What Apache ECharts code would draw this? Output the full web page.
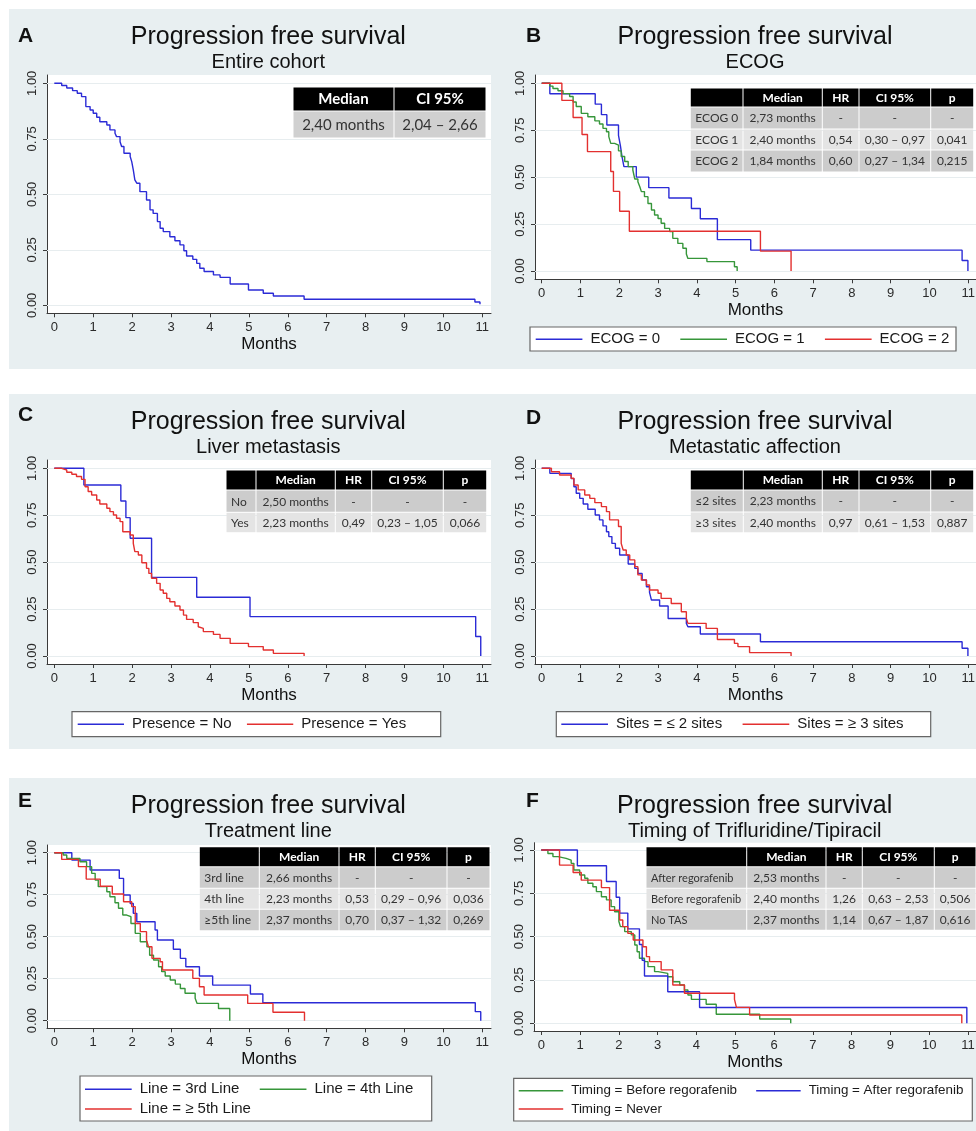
<!DOCTYPE html>
<html><head><meta charset="utf-8">
<script src="https://cdn.jsdelivr.net/npm/echarts@6/dist/echarts.min.js"></script>
<style>html,body{margin:0;padding:0;background:#fff}#c{width:976px;height:1131px}</style>
</head><body><div id="c"></div>
<script>
// ---------------- DATA ----------------
const monthTicks = [0,1,2,3,4,5,6,7,8,9,10,11];
const survTicks = [0, 0.25, 0.5, 0.75, 1];

// A: entire cohort
const allT = [0,0.19,0.32,0.47,0.59,0.70,0.81,0.92,1.00,1.09,1.17,1.35,1.43,1.56,1.60,1.69,1.73,1.79,1.95,1.99,2.03,2.07,2.12,2.20,2.37,2.46,2.54,2.65,2.72,2.80,2.97,3.10,3.23,3.33,3.40,3.56,3.66,3.74,3.85,4.09,4.26,4.52,4.99,5.37,5.63,6.42,10.81,10.94];
const allS = [1.000,0.990,0.979,0.967,0.955,0.940,0.895,0.880,0.865,0.847,0.827,0.812,0.790,0.775,0.760,0.737,0.715,0.685,0.670,0.647,0.610,0.565,0.550,0.512,0.474,0.430,0.414,0.377,0.347,0.332,0.309,0.291,0.272,0.246,0.222,0.207,0.189,0.167,0.152,0.137,0.126,0.096,0.069,0.054,0.042,0.027,0.015,0.005];

// B: ECOG
const ecog0T = [0,0.21,1.38,1.54,1.68,1.98,2.03,2.07,2.12,2.44,2.76,3.28,3.86,4.09,4.53,5.39,10.84,10.99];
const ecog0S = [1,0.944,0.889,0.833,0.778,0.722,0.667,0.611,0.556,0.500,0.444,0.389,0.333,0.278,0.167,0.111,0.056,0];
const ecog1T = [0,0.21,0.29,0.42,0.55,0.72,0.81,0.89,1.02,1.19,1.37,1.49,1.58,1.67,1.73,1.78,1.88,1.98,2.05,2.14,2.23,2.35,2.40,2.48,2.53,2.57,2.65,2.74,2.83,2.91,3.00,3.08,3.17,3.30,3.38,3.51,3.64,3.73,3.77,4.26,4.97,5.04];
const ecog1S = [1,0.985,0.972,0.960,0.945,0.930,0.900,0.876,0.840,0.822,0.800,0.783,0.760,0.742,0.716,0.680,0.671,0.640,0.610,0.583,0.556,0.538,0.490,0.476,0.449,0.423,0.396,0.360,0.325,0.298,0.280,0.254,0.227,0.210,0.174,0.147,0.121,0.091,0.067,0.050,0.023,0];
const ecog2T = [0,0.52,0.81,1.04,1.18,1.78,1.85,2.01,2.26,5.64,6.43];
const ecog2S = [1,0.909,0.818,0.727,0.636,0.530,0.424,0.318,0.212,0.106,0];

// C: liver metastasis
const liverNoT = [0,0.76,1.71,1.84,1.95,2.50,3.66,5.03,10.83,10.96];
const liverNoS = [1,0.911,0.826,0.737,0.627,0.419,0.313,0.210,0.104,0];
const liverYesT = [0,0.19,0.32,0.45,0.57,0.70,0.79,0.87,0.96,1.09,1.17,1.35,1.43,1.52,1.60,1.69,1.76,1.95,2.03,2.07,2.16,2.25,2.37,2.43,2.50,2.63,2.72,2.80,2.89,2.97,3.10,3.23,3.32,3.40,3.57,3.70,3.74,3.83,4.09,4.26,4.52,4.99,5.37,5.63,6.42];
const liverYesS = [1,0.991,0.979,0.968,0.956,0.941,0.902,0.876,0.858,0.831,0.810,0.787,0.769,0.751,0.734,0.716,0.662,0.645,0.600,0.556,0.538,0.497,0.467,0.440,0.414,0.387,0.352,0.334,0.307,0.289,0.266,0.245,0.218,0.195,0.178,0.156,0.147,0.130,0.115,0.094,0.067,0.050,0.032,0.014,0];

// D: metastatic sites
const sitesLe2T = [0,0.21,0.76,0.83,0.89,0.98,1.07,1.19,1.38,1.49,1.58,1.67,1.73,1.81,1.90,2.01,2.23,2.40,2.48,2.59,2.70,2.78,2.83,3.04,3.26,3.73,3.77,4.09,5.64,10.84,10.99];
const sitesLe2S = [1,0.973,0.945,0.902,0.867,0.840,0.810,0.782,0.751,0.725,0.693,0.662,0.636,0.600,0.574,0.538,0.490,0.467,0.440,0.405,0.369,0.339,0.298,0.266,0.200,0.174,0.156,0.117,0.076,0.041,0];
const sitesGe3T = [0,0.25,0.46,0.76,0.83,0.94,1.11,1.24,1.37,1.54,1.67,1.75,1.98,2.05,2.10,2.18,2.27,2.40,2.48,2.57,2.70,2.78,3.00,3.08,3.34,3.60,3.73,3.77,4.24,4.53,4.97,5.06,5.36,6.43];
const sitesGe3S = [1,0.982,0.964,0.947,0.911,0.885,0.858,0.840,0.817,0.796,0.769,0.725,0.690,0.600,0.565,0.538,0.512,0.476,0.432,0.405,0.378,0.352,0.334,0.307,0.280,0.236,0.200,0.174,0.147,0.088,0.067,0.050,0.018,0];

// E: treatment line
const line3T = [0,0.45,0.92,1.67,1.78,1.95,2.03,2.12,2.59,2.65,3.06,3.24,3.38,3.73,4.07,5.04,5.36,10.82,10.96];
const line3S = [1,0.956,0.897,0.847,0.748,0.698,0.639,0.589,0.540,0.480,0.425,0.371,0.321,0.266,0.212,0.159,0.107,0.054,0];
const line4T = [0,0.23,0.32,0.66,0.83,0.96,1.05,1.13,1.35,1.43,1.56,1.65,1.76,1.86,1.97,2.08,2.21,2.38,2.45,2.55,2.68,2.76,2.85,2.98,3.11,3.24,3.36,3.62,3.67,4.22,4.51];
const line4S = [1,0.986,0.966,0.946,0.917,0.877,0.837,0.798,0.768,0.738,0.702,0.669,0.629,0.619,0.579,0.520,0.470,0.440,0.390,0.361,0.321,0.292,0.266,0.242,0.218,0.192,0.163,0.133,0.103,0.073,0];
const line5T = [0,0.19,0.62,0.82,1.18,1.49,1.78,1.99,2.08,2.21,2.37,2.42,2.51,2.72,2.78,3.56,3.73,3.85,4.97,5.62,6.43];
const line5S = [1,0.960,0.917,0.843,0.800,0.754,0.708,0.679,0.579,0.530,0.480,0.440,0.371,0.351,0.302,0.252,0.202,0.153,0.103,0.050,0];

// F: timing of trifluridine/tipiracil
const afterT = [0,0.93,1.68,1.93,2.02,2.23,2.53,2.60,2.66,3.26,4.08,10.97];
const afterS = [1,0.909,0.818,0.727,0.636,0.545,0.455,0.364,0.273,0.182,0.091,0];
const beforeT = [0,0.17,0.30,0.43,0.64,0.77,0.84,0.99,1.12,1.20,1.33,1.42,1.55,1.68,1.80,1.89,2.00,2.04,2.15,2.32,2.41,2.47,2.53,2.66,2.75,2.92,3.01,3.26,3.39,3.57,3.69,3.78,3.87,4.25,4.51,5.63,6.43];
const beforeS = [1,0.980,0.962,0.952,0.942,0.923,0.885,0.856,0.837,0.808,0.788,0.760,0.730,0.712,0.673,0.644,0.587,0.558,0.529,0.510,0.452,0.413,0.375,0.356,0.327,0.298,0.288,0.269,0.240,0.221,0.192,0.163,0.138,0.110,0.052,0.025,0];
const neverT = [0,0.47,0.82,1.03,1.55,1.76,2.02,2.10,2.23,2.37,2.62,2.71,2.79,3.09,3.39,3.69,4.98,5.03,5.37,10.84];
const neverS = [1,0.913,0.870,0.826,0.783,0.652,0.596,0.558,0.519,0.481,0.442,0.385,0.356,0.308,0.221,0.173,0.138,0.092,0.048,0];

// texts
const mainTitle = 'Progression free survival';
const subTitles = ['Entire cohort','ECOG','Liver metastasis','Metastatic affection','Treatment line','Timing of Trifluridine/Tipiracil'];
const panelLetters = ['A','B','C','D','E','F'];
const axisName = 'Months';

const legendB = ['ECOG = 0','ECOG = 1','ECOG = 2'];
const legendC = ['Presence = No','Presence = Yes'];
const legendD = ['Sites = ≤ 2 sites','Sites = ≥ 3 sites'];
const legendE = ['Line = 3rd Line','Line = 4th Line','Line = ≥ 5th Line'];
const legendF = ['Timing = Before regorafenib','Timing = After regorafenib','Timing = Never'];

const headA = ['Median','CI 95%'];
const rowsA = [['2,40 months','2,04 – 2,66']];
const headMain = ['','Median','HR','CI 95%','p'];
const rowsB = [['ECOG 0','2,73 months','-','-','-'],['ECOG 1','2,40 months','0,54','0,30 – 0,97','0,041'],['ECOG 2','1,84 months','0,60','0,27 – 1,34','0,215']];
const rowsC = [['No','2,50 months','-','-','-'],['Yes','2,23 months','0,49','0,23 – 1,05','0,066']];
const rowsD = [['≤2 sites','2,23 months','-','-','-'],['≥3 sites','2,40 months','0,97','0,61 – 1,53','0,887']];
const rowsE = [['3rd line','2,66 months','-','-','-'],['4th line','2,23 months','0,53','0,29 – 0,96','0,036'],['≥5th line','2,37 months','0,70','0,37 – 1,32','0,269']];
const rowsF = [['After regorafenib','2,53 months','-','-','-'],['Before regorafenib','2,40 months','1,26','0,63 – 2,53','0,506'],['No TAS','2,37 months','1,14','0,67 – 1,87','0,616']];

// ---------------- STYLE / LAYOUT ----------------
const BLUE = '#2b2bd6', GREEN = '#36963a', RED = '#e3302f';
const BG = '#e8eff1';
const SANS = '"Liberation Sans", Arial, sans-serif';
const TFONT = 'Lato, "Open Sans", sans-serif';

const curves = [
  {p:0, name:'Entire cohort', t:allT, s:allS, c:BLUE},
  {p:1, name:legendB[0], t:ecog0T, s:ecog0S, c:BLUE},
  {p:1, name:legendB[1], t:ecog1T, s:ecog1S, c:GREEN},
  {p:1, name:legendB[2], t:ecog2T, s:ecog2S, c:RED},
  {p:2, name:legendC[0], t:liverNoT, s:liverNoS, c:BLUE},
  {p:2, name:legendC[1], t:liverYesT, s:liverYesS, c:RED},
  {p:3, name:legendD[0], t:sitesLe2T, s:sitesLe2S, c:BLUE},
  {p:3, name:legendD[1], t:sitesGe3T, s:sitesGe3S, c:RED},
  {p:4, name:legendE[0], t:line3T, s:line3S, c:BLUE},
  {p:4, name:legendE[1], t:line4T, s:line4S, c:GREEN},
  {p:4, name:legendE[2], t:line5T, s:line5S, c:RED},
  {p:5, name:legendF[0], t:beforeT, s:beforeS, c:GREEN},
  {p:5, name:legendF[1], t:afterT, s:afterS, c:BLUE},
  {p:5, name:legendF[2], t:neverT, s:neverS, c:RED}
];

const PL = [
  {x0:54.3, x11:482.3, y1:83.3, y0:305.3, reg:[47,75,491,313.3], tY:37, sY:62, lx:18, ly:36},
  {x0:541.7, x11:968.3, y1:83.3, y0:271, reg:[535,75,976,279.3], tY:37, sY:62, lx:526, ly:36},
  {x0:54.3, x11:482.3, y1:468.3, y0:656, reg:[47,460,491,664], tY:421.7, sY:447.7, lx:18, ly:415},
  {x0:541.7, x11:968.3, y1:468.3, y0:656, reg:[535,460,976,664], tY:421.7, sY:447.7, lx:526, ly:418},
  {x0:54.3, x11:482.3, y1:852.7, y0:1020.7, reg:[47,845,491,1028.3], tY:805.7, sY:831.7, lx:18, ly:801},
  {x0:541.3, x11:968, y1:850, y0:1023.3, reg:[534,842.7,976,1031], tY:805.7, sY:831, lx:526, ly:801.7}
];
const ROWBANDS = [[9,369],[394,749],[778,1131]];

const DK = '#cccccc', LT = '#e4e4e4';
const TABLES = [
  {head:headA, rows:rowsA, cols:[293,394,486], ys:[87,111,138], fills:['#d0d0d0'], fs:15, ffs:15, left:false},
  {head:headMain, rows:rowsB, cols:[690.3,743,822.3,859,930.7,973.7], ys:[88,107,129,150,172], fills:[DK,LT,DK], fs:12, ffs:12, left:true},
  {head:headMain, rows:rowsC, cols:[226,256,335.3,371.7,443.3,486.7], ys:[470,490,512.3,532.7], fills:[DK,LT], fs:12, ffs:12, left:true},
  {head:headMain, rows:rowsD, cols:[690.3,743.3,822.3,859,930.7,973.7], ys:[470,490,512,532.7], fills:[DK,LT], fs:12, ffs:12, left:true},
  {head:headMain, rows:rowsE, cols:[199.3,259.3,339,375.3,447,490], ys:[846.7,866.7,888.3,909.3,930.7], fills:[DK,LT,DK], fs:12, ffs:12, left:true},
  {head:headMain, rows:rowsF, cols:[646,746.7,826,862.3,934.3,976], ys:[846.7,866.7,888.3,909.3,930.3], fills:[DK,LT,DK], fs:12, ffs:11, left:true}
];

const LEGENDS = [
  {rows:[{items:legendB, left:535.7, cy:339.3}], textW:70, gap:20.3, iconW:46.7, fs:15, frame:[530,327,956,351]},
  {rows:[{items:legendC, left:77.7, cy:724.3}], textW:106, gap:15.3, iconW:46.3, fs:15, frame:[72,711.7,440.7,736.7]},
  {rows:[{items:legendD, left:561.3, cy:724.3}], textW:108, gap:20.4, iconW:46.7, fs:15, frame:[556.3,711.7,930.7,736.7]},
  {rows:[{items:legendE.slice(0,2), left:85, cy:1089.3},{items:legendE.slice(2), left:85, cy:1109}], textW:112, gap:20.4, iconW:46.7, fs:15, frame:[80,1076,431.7,1121]},
  {rows:[{items:legendF.slice(0,2), left:518.7, cy:1091},{items:legendF.slice(2), left:518.7, cy:1109.3}], textW:167, gap:19.1, iconW:44.5, fs:13.4, frame:[513.7,1078.3,972.3,1121]}
];

// ---------------- BUILD ----------------
const grids = [], xAxes = [], yAxes = [], series = [], graphics = [], legends = [];

ROWBANDS.forEach(b => graphics.push({type:'rect', z:-10, silent:true, shape:{x:9, y:b[0], width:967, height:b[1]-b[0]}, style:{fill:BG}}));

PL.forEach((p, i) => {
  const r = p.reg;
  const ppm = (p.x11 - p.x0) / 11;
  const ppu = p.y0 - p.y1;
  grids.push({left:r[0], top:r[1], width:r[2]-r[0], height:r[3]-r[1], show:false, containLabel:false, outerBoundsMode:'none'});
  xAxes.push({
    gridIndex:i, type:'value',
    min:-(p.x0 - r[0]) / ppm, max:11 + (r[2] - p.x11) / ppm,
    axisLine:{show:true, onZero:false, lineStyle:{color:'#3a3a3a', width:1}},
    axisTick:{show:true, customValues:monthTicks, length:4, lineStyle:{color:'#3a3a3a', width:1}},
    axisLabel:{show:true, customValues:monthTicks, fontSize:13, fontFamily:SANS, color:'#2a2a2a', margin:8, formatter:v => String(Math.round(v))},
    splitLine:{show:false},
    name:axisName, nameLocation:'middle', nameGap:23,
    nameTextStyle:{fontSize:17, fontFamily:SANS, color:'#111'}
  });
  yAxes.push({
    gridIndex:i, type:'value',
    min:-(r[3] - p.y0) / ppu, max:1 + (p.y1 - r[1]) / ppu,
    axisLine:{show:true, onZero:false, lineStyle:{color:'#3a3a3a', width:1}},
    axisTick:{show:true, customValues:survTicks, length:4, lineStyle:{color:'#3a3a3a', width:1}},
    axisLabel:{show:true, customValues:survTicks, rotate:90, fontSize:13, fontFamily:SANS, color:'#2a2a2a', margin:8, formatter:v => v.toFixed(2)},
    splitLine:{show:false}
  });
  graphics.push({type:'rect', z:-9, silent:true, shape:{x:r[0], y:r[1], width:r[2]-r[0], height:r[3]-r[1]}, style:{fill:'#ffffff'}});
  series.push({
    type:'line', name:'_grid' + i, xAxisIndex:i, yAxisIndex:i, data:[], silent:true, z:1,
    markLine:{silent:true, z:1, symbol:'none', animation:false, label:{show:false},
      lineStyle:{color:'#e7edef', width:1, type:'solid'},
      emphasis:{disabled:true},
      data:survTicks.map(v => ({yAxis:v}))}
  });
  const cx = (p.x0 + p.x11) / 2;
  graphics.push({type:'text', z:5, silent:true, x:cx, y:p.tY, style:{text:mainTitle, fontSize:25, fontFamily:SANS, fill:'#111', align:'center', verticalAlign:'middle'}});
  graphics.push({type:'text', z:5, silent:true, x:cx, y:p.sY, style:{text:subTitles[i], fontSize:20, fontFamily:SANS, fill:'#111', align:'center', verticalAlign:'middle'}});
  graphics.push({type:'text', z:5, silent:true, x:p.lx, y:p.ly, style:{text:panelLetters[i], fontSize:21, fontWeight:'bold', fontFamily:SANS, fill:'#111', align:'left', verticalAlign:'middle'}});
});

curves.forEach(c => {
  series.push({
    type:'line', name:c.name, xAxisIndex:c.p, yAxisIndex:c.p, z:3,
    data:c.t.map((t, k) => [t, c.s[k]]),
    step:'end', symbol:'none', showSymbol:false,
    lineStyle:{color:c.c, width:1.4}, itemStyle:{color:c.c},
    emphasis:{disabled:true}, animation:false
  });
});

TABLES.forEach(tb => {
  const cols = tb.cols, ys = tb.ys;
  const cell = (x1, y1, x2, y2, fill) => graphics.push({type:'rect', z:6, silent:true, shape:{x:x1+0.5, y:y1+0.5, width:x2-x1-1, height:y2-y1-1}, style:{fill:fill}});
  const txt = (x, y, s, fs, bold, col, al) => graphics.push({type:'text', z:7, silent:true, x:x, y:y, style:{text:s, fontSize:fs, fontWeight:bold ? 'bold' : 'normal', fontFamily:TFONT, fill:col, align:al, verticalAlign:'middle'}});
  for (let j = 0; j < cols.length - 1; j++) {
    cell(cols[j], ys[0], cols[j+1], ys[1], '#000');
    if (tb.head[j]) txt((cols[j] + cols[j+1]) / 2, (ys[0] + ys[1]) / 2 + 0.5, tb.head[j], tb.fs, true, '#fff', 'center');
  }
  tb.rows.forEach((row, ri) => {
    const y1 = ys[ri + 1], y2 = ys[ri + 2];
    for (let j = 0; j < cols.length - 1; j++) {
      cell(cols[j], y1, cols[j+1], y2, tb.fills[ri]);
      const cy = (y1 + y2) / 2 + 0.5;
      if (j === 0 && tb.left) txt(cols[0] + 5, cy, row[j], tb.ffs, false, '#333', 'left');
      else txt((cols[j] + cols[j+1]) / 2, cy, row[j], tb.fs, false, '#333', 'center');
    }
  });
});

LEGENDS.forEach(lg => {
  const f = lg.frame;
  graphics.push({type:'rect', z:1, silent:true, shape:{x:f[0], y:f[1], width:f[2]-f[0], height:f[3]-f[1]}, style:{fill:'#fff', stroke:'#666', lineWidth:1.2}});
  lg.rows.forEach(row => {
    legends.push({
      data:row.items, orient:'horizontal', left:row.left, top:row.cy - lg.fs / 2, width:900, padding:0,
      itemGap:lg.gap, itemWidth:lg.iconW, itemHeight:1.5, icon:'rect', selectedMode:false, z:8,
      itemStyle:{borderWidth:0},
      textStyle:{fontSize:lg.fs, fontFamily:SANS, color:'#1a1a1a', width:lg.textW, padding:[0,0,0,3], overflow:'none'}
    });
  });
});

const chart = echarts.init(document.getElementById('c'), null, {renderer:'canvas'});
chart.setOption({
  animation:false,
  backgroundColor:'#ffffff',
  grid:grids, xAxis:xAxes, yAxis:yAxes, series:series, legend:legends,
  graphic:{elements:graphics}
});
</script></body></html>
